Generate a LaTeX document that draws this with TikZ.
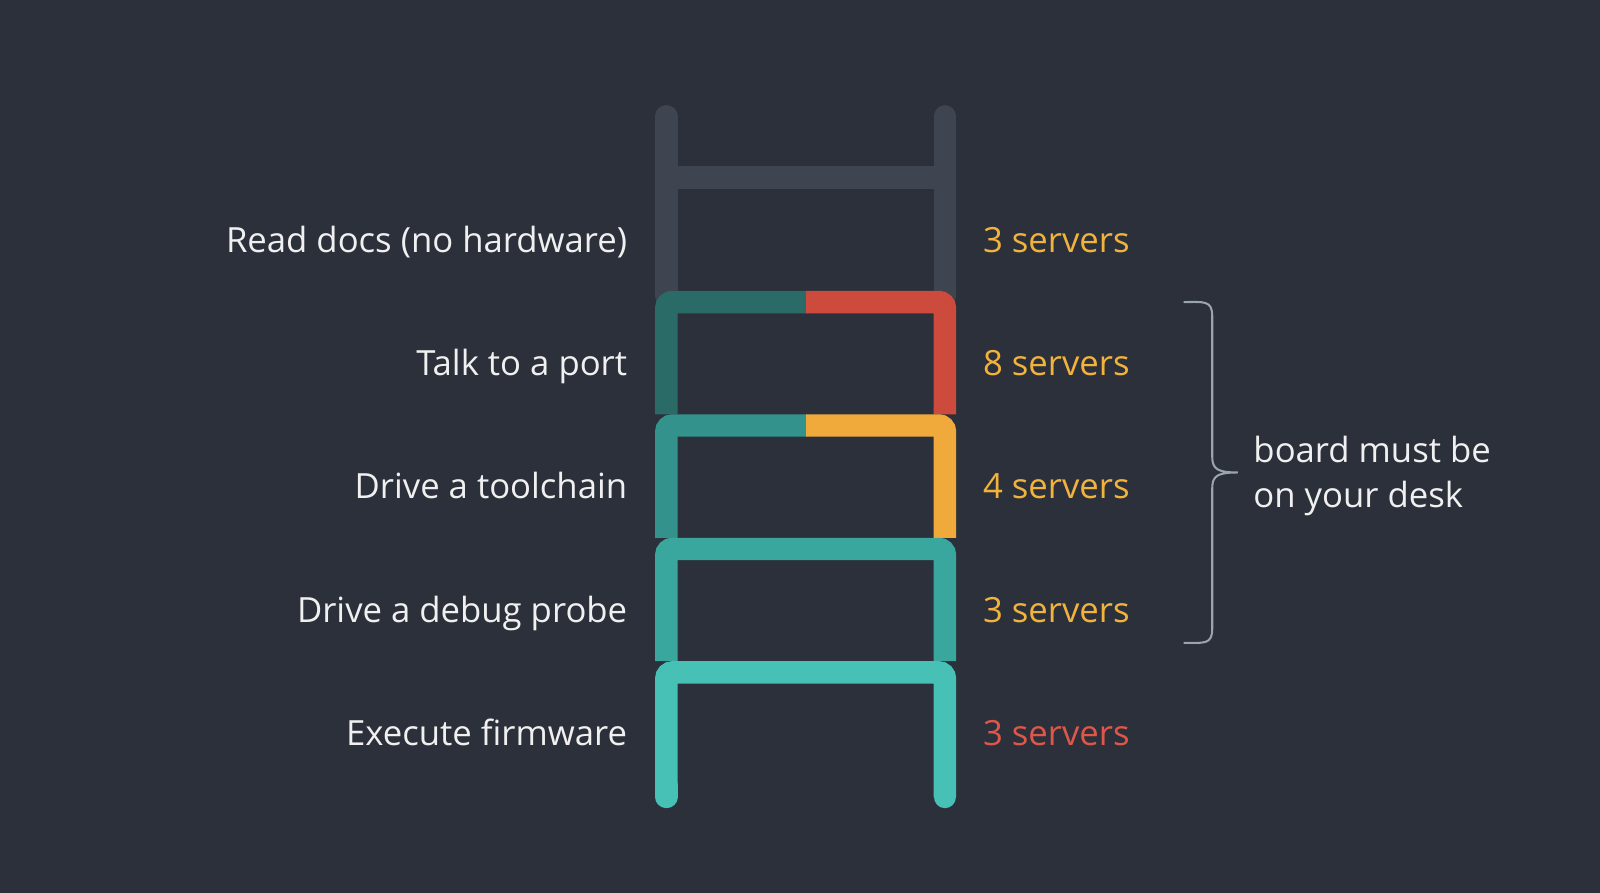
\documentclass[tikz,border=0pt]{standalone}
\usepackage{fontspec}
\setmainfont{Open Sans}
\definecolor{bg}{HTML}{2B303A}
\definecolor{lgray}{HTML}{3E4450}
\definecolor{dteal}{HTML}{2A6B68}
\definecolor{lred}{HTML}{CC4B3C}
\definecolor{teal}{HTML}{34928C}
\definecolor{lorange}{HTML}{F0AA3C}
\definecolor{tealb}{HTML}{3AA79E}
\definecolor{tealc}{HTML}{47C1B5}
\definecolor{txt}{HTML}{F0F0F0}
\definecolor{otxt}{HTML}{F2B33D}
\definecolor{rtxt}{HTML}{E0574A}
\definecolor{brc}{HTML}{9AA4AA}
\begin{document}
\begin{tikzpicture}[x=0.5pt,y=-0.5pt,
  rail/.style={line width=11pt,rounded corners=3pt},
  lab/.style={anchor=base east,text=txt,font=\fontsize{17}{21}\selectfont,inner sep=0},
  cnt/.style={anchor=base west,font=\fontsize{17}{21}\selectfont,inner sep=0}]
\fill[bg] (0,0) rectangle (1568,875);
\useasboundingbox (0,0) rectangle (1568,875);
% top gray section
\draw[lgray,line width=11pt,line cap=round] (653,114) -- (653,290);
\draw[lgray,line width=11pt,line cap=round] (926,114) -- (926,290);
\draw[lgray,line width=11pt] (653,174) -- (926,174);
% section 1
\draw[rail,dteal] (653,406) -- (653,296) -- (791,296);
\draw[rail,lred] (790,296) -- (926,296) -- (926,406);
% section 2
\draw[rail,teal] (653,527) -- (653,417) -- (791,417);
\draw[rail,lorange] (790,417) -- (926,417) -- (926,527);
% section 3
\draw[rail,tealb] (653,648) -- (653,538) -- (926,538) -- (926,648);
% section 4
\draw[rail,tealc] (653,781) -- (653,659) -- (926,659) -- (926,781);
\draw[tealc,line width=11pt,line cap=round] (653,770) -- (653,781);
\draw[tealc,line width=11pt,line cap=round] (926,770) -- (926,781);
% labels
\node[lab] (l1) at (615,247) {Read docs (no hardware)};
\node[lab] (l2) at (615,368) {Talk to a port};
\node[lab] (l3) at (615,489) {Drive a toolchain};
\node[lab] (l4) at (615,610) {Drive a debug probe};
\node[lab] (l5) at (615,731) {Execute firmware};
\node[cnt,text=otxt] (c1) at (963,247) {3 servers};
\node[cnt,text=otxt] (c2) at (963,368) {8 servers};
\node[cnt,text=otxt] (c3) at (963,489) {4 servers};
\node[cnt,text=otxt] (c4) at (963,610) {3 servers};
\node[cnt,text=rtxt] (c5) at (963,731) {3 servers};
% brace
\draw[brc,line width=1pt] (1160,296) .. controls (1180,296) and (1188,294) .. (1188,310)
  -- (1188,448) .. controls (1188,460) and (1194,463) .. (1213,463)
  (1188,478) .. controls (1188,466) and (1194,463) .. (1213,463)
  (1188,478) -- (1188,616) .. controls (1188,632) and (1180,630) .. (1160,630);
\node[anchor=base west,text=txt,font=\fontsize{17}{22}\selectfont,align=left,inner sep=0] (b) at (1228,497) {board must be\\on your desk};
\end{tikzpicture}
\end{document}
